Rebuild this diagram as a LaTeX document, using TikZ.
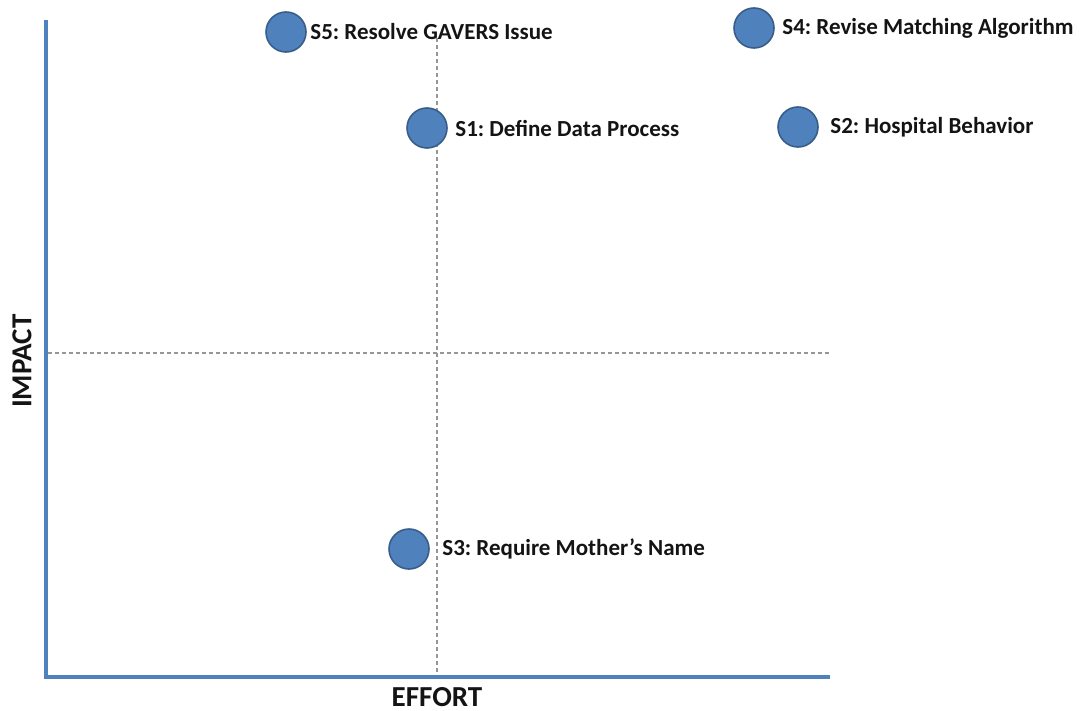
\documentclass[tikz,border=0pt]{standalone}
\usepackage{fontspec}
\setmainfont{Carlito}
\usepackage{tikz}
\usetikzlibrary{
  positioning
}
\frenchspacing
\definecolor{axiscolor}{RGB}{79, 129, 189}
\definecolor{dotcolor}{RGB}{79, 129, 189}
\definecolor{dotborder}{RGB}{56, 93, 138}
\definecolor{guidecolor}{RGB}{150, 150, 150}
\definecolor{labelcolor}{RGB}{20, 20, 20}
\tikzset{
dot/.style={
  circle,
  draw=dotborder,
  fill=dotcolor,
  line width=0.8pt,
  minimum size=20pt,
  inner sep=0pt
},
itemlabel/.style={
  font=\bfseries\fontsize{11.5}{13}\selectfont,
  text=labelcolor,
  inner sep=0pt,
  anchor=west
},
axislabel/.style={
  font=\bfseries\fontsize{14.5}{16}\selectfont,
  text=labelcolor
},
axisline/.style={
  draw=axiscolor,
  line width=2pt
},
guide/.style={
  draw=guidecolor,
  line width=0.6pt,
  dash pattern=on 2pt off 1.5pt
}
}

\begin{document}
\begin{tikzpicture}[x=0.5pt, y=-0.5pt]
  \useasboundingbox (0,0) rectangle (1080,711);

  % axes
  \coordinate (top) at (46,20);
  \coordinate (origin) at (46,677);
  \coordinate (right) at (830,677);
  \draw[axisline] (top) -- (origin) -- (right);

  % quadrant guides
  \coordinate (vtop) at (437,38);
  \coordinate (vbot) at (437,675);
  \coordinate (hleft) at (48,353);
  \coordinate (hright) at (831,353);
  \draw[guide] (vtop) -- (vbot);
  \draw[guide] (hleft) -- (hright);

  \node[axislabel] (effort) at (437,697) {EFFORT};
  \node[axislabel, rotate=90] (impact) at (22,361) {IMPACT};

  % solutions
  \node[dot] (s5) at (286,32) {};
  \node[itemlabel, right=12pt of s5.center] (s5label) {S5: Resolve GAVERS Issue};
  \node[dot] (s4) at (754,28) {};
  \node[itemlabel, right=14pt of s4.center] (s4label) {S4: Revise Matching Algorithm};
  \node[dot] (s1) at (427,128) {};
  \node[itemlabel, right=14pt of s1.center] (s1label) {S1: Define Data Process};
  \node[dot] (s2) at (798,127) {};
  \node[itemlabel, right=16pt of s2.center] (s2label) {S2: Hospital Behavior};
  \node[dot] (s3) at (409,549) {};
  \node[itemlabel, right=16.5pt of s3.center] (s3label) {S3: Require Mother’s Name};
\end{tikzpicture}
\end{document}
